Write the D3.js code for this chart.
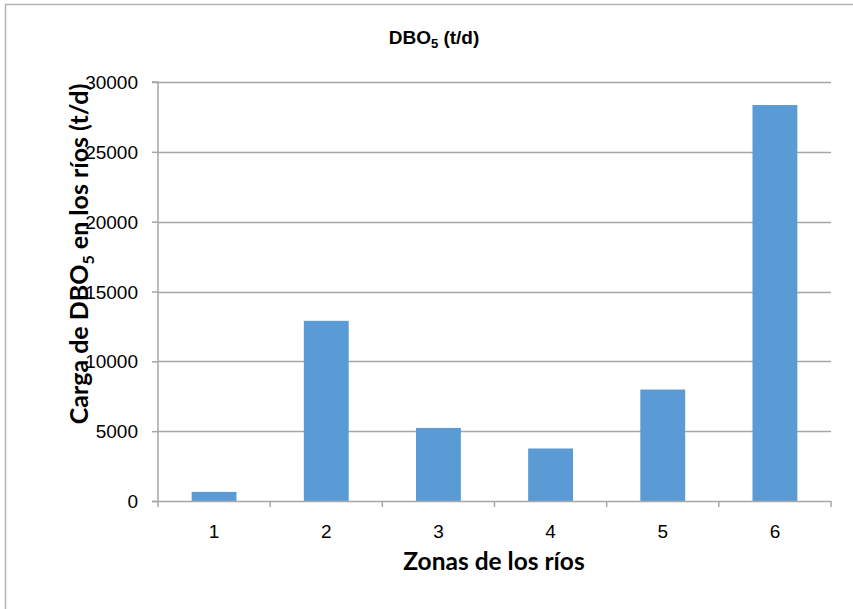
<!DOCTYPE html>
<html>
<head>
<meta charset="utf-8">
<script src="https://cdn.jsdelivr.net/npm/d3@7"></script>
<style>
  html, body { margin: 0; padding: 0; background: #fff; }
  svg { display: block; }
</style>
</head>
<body>
<svg id="chart" width="853" height="609"></svg>
<script>
// BOD5 load per river zone (t/d)
const zones = ["1", "2", "3", "4", "5", "6"];
const cargaDBO5 = [650, 12900, 5230, 3760, 7980, 28350];
const yTicks = [0, 5000, 10000, 15000, 20000, 25000, 30000];

const svg = d3.select("#chart");
const W = 853, H = 609;
const plot = { left: 158, right: 831, top: 82, bottom: 501 };
const tickFont = "Liberation Sans, Arial, sans-serif";
const titleFont = "Lato, 'Open Sans', sans-serif";

// outer chart frame
svg.append("rect")
  .attr("x", 5.5).attr("y", 4.5)
  .attr("width", W + 10).attr("height", H + 10)
  .attr("fill", "#fff").attr("stroke", "#b3b3b3").attr("stroke-width", 1.5);

const x = d3.scaleBand().domain(zones).range([plot.left, plot.right]).paddingInner(0.6).paddingOuter(0.3);
const xOuter = d3.scaleBand().domain(zones).range([plot.left, plot.right]);
const y = d3.scaleLinear().domain([0, 30000]).range([plot.bottom, plot.top]);

// horizontal gridlines
svg.append("g").selectAll("line").data(yTicks.filter(d => d > 0)).join("line")
  .attr("x1", plot.left).attr("x2", plot.right)
  .attr("y1", d => Math.round(y(d)) + 0.5).attr("y2", d => Math.round(y(d)) + 0.5)
  .attr("stroke", "#a6a6a6").attr("stroke-width", 1.5);

// bars
svg.append("g").selectAll("rect").data(cargaDBO5).join("rect")
  .attr("x", (d, i) => x(zones[i]))
  .attr("y", d => y(d))
  .attr("width", x.bandwidth())
  .attr("height", d => plot.bottom - y(d))
  .attr("fill", "#5b9bd5");

// y axis
const yAxis = d3.axisLeft(y).tickValues(yTicks).tickSize(6).tickPadding(14).tickFormat(d3.format("d"));
const gy = svg.append("g").attr("transform", `translate(${plot.left},0)`).call(yAxis);
gy.select(".domain").attr("stroke", "#a6a6a6").attr("stroke-width", 1.5).attr("d", `M-6,${plot.top}H0V${plot.bottom}`);
gy.selectAll(".tick line").attr("stroke", "#a6a6a6").attr("stroke-width", 1.5);
gy.selectAll(".tick text")
  .attr("font-family", tickFont)
  .attr("font-size", 19).attr("fill", "#000").attr("dy", "0.35em");

// x axis with boundary ticks between categories
const gx = svg.append("g").attr("transform", `translate(0,${plot.bottom})`);
gx.append("line").attr("x1", plot.left - 6).attr("x2", plot.right).attr("y1", 0.5).attr("y2", 0.5)
  .attr("stroke", "#a6a6a6").attr("stroke-width", 1.5);
const bounds = zones.map(z => xOuter(z)).concat([plot.right]);
gx.selectAll("line.tk").data(bounds).join("line").attr("class", "tk")
  .attr("x1", d => d).attr("x2", d => d).attr("y1", 0).attr("y2", 6)
  .attr("stroke", "#a6a6a6").attr("stroke-width", 1.5);
gx.selectAll("text").data(zones).join("text")
  .attr("x", d => xOuter(d) + xOuter.bandwidth() / 2)
  .attr("y", 37)
  .attr("text-anchor", "middle")
  .attr("font-family", tickFont)
  .attr("font-size", 19).attr("fill", "#000")
  .text(d => d);

// chart title
const title = svg.append("text")
  .attr("x", 434).attr("y", 44)
  .attr("text-anchor", "middle")
  .attr("font-family", tickFont)
  .attr("font-weight", "bold").attr("font-size", 19).attr("fill", "#000");
title.append("tspan").text("DBO");
title.append("tspan").attr("font-size", 13).attr("dy", 4).text("5");
title.append("tspan").attr("dy", -4).text(" (t/d)");

// x axis title
svg.append("text")
  .attr("x", 494).attr("y", 570)
  .attr("text-anchor", "middle")
  .attr("font-family", titleFont)
  .attr("font-weight", "bold").attr("font-size", 24.5).attr("fill", "#000")
  .text("Zonas de los ríos");

// y axis title
const yt = svg.append("text")
  .attr("transform", `translate(88,254) rotate(-90)`)
  .attr("text-anchor", "middle")
  .attr("font-family", titleFont)
  .attr("font-weight", "bold").attr("font-size", 25).attr("fill", "#000");
yt.append("tspan").text("Carga de DBO");
yt.append("tspan").attr("font-size", 16).attr("dy", 6).text("5");
yt.append("tspan").attr("dy", -6).text(" en los ríos (t/d)");
</script>
</body>
</html>
